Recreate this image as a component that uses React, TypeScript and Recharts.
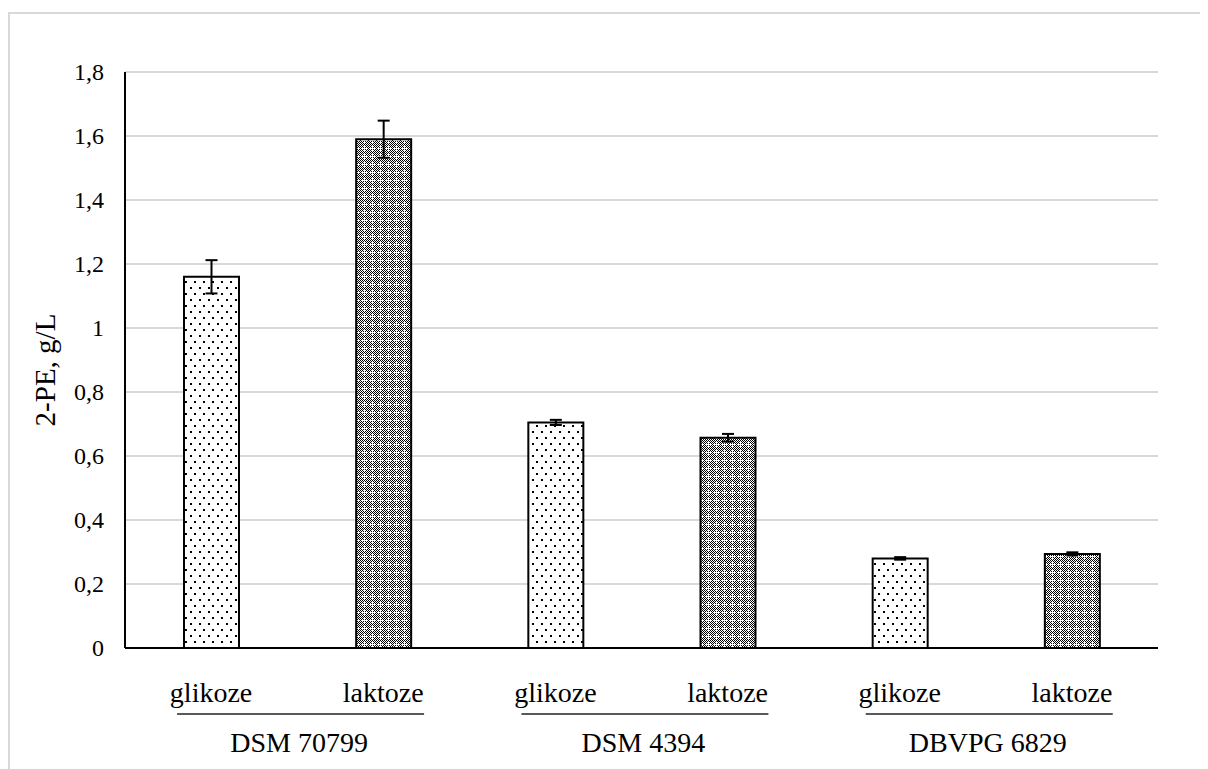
import React from 'react';
import { Bar, BarChart, CartesianGrid, Cell, ErrorBar, XAxis, YAxis } from 'recharts';

const strains = ['DSM 70799', 'DSM 4394', 'DBVPG 6829'];
const sugars = ['glikoze', 'laktoze', 'glikoze', 'laktoze', 'glikoze', 'laktoze'];
const values = [1.16, 1.59, 0.705, 0.657, 0.28, 0.294];
const errors = [0.052, 0.058, 0.008, 0.012, 0.004, 0.005];
const yTicks = [0, 0.2, 0.4, 0.6, 0.8, 1, 1.2, 1.4, 1.6, 1.8];

const data = values.map((v, i) => ({
  id: `${strains[Math.floor(i / 2)]} ${sugars[i]}`,
  value: v,
  err: errors[i],
}));

const serif = "'Liberation Serif', 'Times New Roman', serif";
const txt = { fontFamily: serif };

function CategoryTick(props: any) {
  const { x, y, index } = props;
  const first = index % 2 === 0;
  return (
    <g>
      <text x={x} y={y + 54} textAnchor="middle" style={txt} fontSize={28} fill="#000">
        {sugars[index]}
      </text>
      {first && (
        <>
          <line x1={x - 34} x2={x + 213} y1={y + 66} y2={y + 66} stroke="#595959" strokeWidth={2} />
          <text x={x + 88} y={y + 104} textAnchor="middle" style={txt} fontSize={28} fill="#000">
            {strains[Math.floor(index / 2)]}
          </text>
        </>
      )}
    </g>
  );
}

function YTick(props: any) {
  const { x, y, payload } = props;
  return (
    <text x={x} y={y} dy={8} textAnchor="end" style={txt} fontSize={24} fill="#000">
      {String(payload.value).replace('.', ',')}
    </text>
  );
}

export default function App() {
  return (
    <div style={{ position: 'relative', width: 1200, height: 761, overflow: 'hidden' }}>
      <style>{'html,body{overflow:hidden;}'}</style>
      <div
        style={{
          position: 'absolute',
          top: 4,
          left: 0,
          right: 0,
          bottom: 0,
          borderTop: '2px solid #d9d9d9',
          borderLeft: '2px solid #d9d9d9',
        }}
      />
      <div style={{ position: 'absolute', top: 0, left: 0 }}>
        <BarChart width={1200} height={761} data={data} margin={{ top: 64, right: 50, left: 0, bottom: 0 }}>
          <defs>
            <pattern id="dots" width="9" height="12" patternUnits="userSpaceOnUse">
              <rect width="9" height="12" fill="#fff" />
              <rect x="2" y="3" width="2" height="2" fill="#000" />
              <rect x="6" y="9" width="2" height="2" fill="#000" />
            </pattern>
            <pattern id="checker" width="2" height="2" patternUnits="userSpaceOnUse">
              <rect width="2" height="2" fill="#fff" />
              <rect x="0" y="0" width="1" height="1" fill="#000" />
              <rect x="1" y="1" width="1" height="1" fill="#000" />
            </pattern>
            <pattern id="confetti" width="8" height="8" patternUnits="userSpaceOnUse">
              <rect width="8" height="8" fill="url(#checker)" />
              <rect x="2" y="4" width="5" height="1" fill="#fff" />
              <rect x="4" y="2" width="1" height="5" fill="#fff" />
            </pattern>
          </defs>
          <CartesianGrid vertical={false} stroke="#d9d9d9" strokeWidth={2} />
          <XAxis
            dataKey="id"
            interval={0}
            tickSize={0}
            tickMargin={0}
            height={121}
            axisLine={{ stroke: '#000', strokeWidth: 2 }}
            tick={<CategoryTick />}
          />
          <XAxis
            xAxisId="top"
            dataKey="id"
            orientation="top"
            height={0}
            tick={false}
            tickLine={false}
            axisLine={{ stroke: '#000', strokeWidth: 2 }}
          />
          <YAxis
            domain={[0, 1.8]}
            ticks={yTicks}
            width={117}
            tickSize={0}
            tickMargin={21}
            axisLine={{ stroke: '#000', strokeWidth: 2 }}
            tick={<YTick />}
            label={{
              content: () => (
                <text
                  x={47}
                  y={362}
                  transform="rotate(-90, 47, 362)"
                  textAnchor="middle"
                  style={txt}
                  fontSize={29}
                  fill="#000"
                >
                  2-PE, g/L
                </text>
              ),
            }}
          />
          <YAxis
            yAxisId="right"
            orientation="right"
            domain={[0, 1.8]}
            width={0}
            tick={false}
            tickLine={false}
            axisLine={{ stroke: '#000', strokeWidth: 2 }}
          />
          <Bar dataKey="value" barSize={55} stroke="#000" strokeWidth={2} isAnimationActive={false}>
            {data.map((d, i) => (
              <Cell key={d.id} fill={i % 2 === 0 ? 'url(#dots)' : 'url(#confetti)'} />
            ))}
            <ErrorBar dataKey="err" width={6} stroke="#000" strokeWidth={2} isAnimationActive={false} />
          </Bar>
        </BarChart>
      </div>
    </div>
  );
}
